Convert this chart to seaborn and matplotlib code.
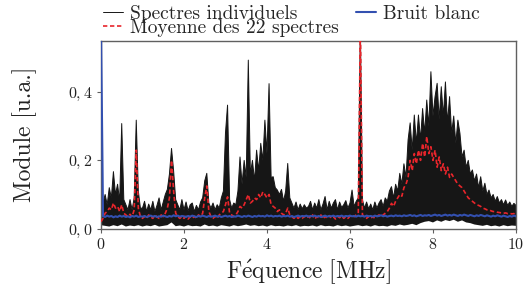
import numpy as np
import matplotlib
matplotlib.use("Agg")
import matplotlib.pyplot as plt
import seaborn as sns

# ---------------- data ----------------
freq = np.linspace(0, 10, 201)          # MHz, 0.05 MHz grid
freq_min = np.linspace(0, 10, 101)      # MHz, 0.1 MHz grid

# upper envelope of the 22 individual spectra
spectres_max = [
    0.040, 0.075, 0.100, 0.070, 0.120, 0.090, 0.167, 0.100, 0.130, 0.080,
    0.308, 0.085, 0.070, 0.055, 0.085, 0.055, 0.090, 0.318, 0.110, 0.060,
    0.060, 0.080, 0.050, 0.072, 0.055, 0.080, 0.050, 0.068, 0.090, 0.055,
    0.078, 0.100, 0.115, 0.160, 0.235, 0.170, 0.085, 0.070, 0.055, 0.085,
    0.055, 0.078, 0.052, 0.070, 0.075, 0.050, 0.068, 0.055, 0.078, 0.090,
    0.140, 0.162, 0.075, 0.060, 0.075, 0.055, 0.070, 0.060, 0.090, 0.110,
    0.280, 0.362, 0.085, 0.060, 0.075, 0.070, 0.110, 0.210, 0.130, 0.200,
    0.150, 0.494, 0.160, 0.200, 0.140, 0.230, 0.170, 0.250, 0.200, 0.318,
    0.220, 0.425, 0.150, 0.152, 0.120, 0.113, 0.100, 0.115, 0.080, 0.110,
    0.191, 0.090, 0.075, 0.060, 0.078, 0.055, 0.072, 0.058, 0.070, 0.060,
    0.065, 0.080, 0.055, 0.075, 0.060, 0.085, 0.055, 0.072, 0.094, 0.055,
    0.080, 0.060, 0.075, 0.085, 0.055, 0.078, 0.062, 0.070, 0.082, 0.060,
    0.075, 0.113, 0.065, 0.080, 0.090, 0.600, 0.085, 0.060, 0.078, 0.058,
    0.072, 0.055, 0.078, 0.060, 0.075, 0.085, 0.065, 0.090, 0.080, 0.110,
    0.123, 0.090, 0.130, 0.110, 0.162, 0.130, 0.190, 0.150, 0.260, 0.310,
    0.230, 0.333, 0.250, 0.333, 0.260, 0.352, 0.280, 0.377, 0.300, 0.460,
    0.330, 0.387, 0.426, 0.320, 0.416, 0.330, 0.430, 0.310, 0.387, 0.280,
    0.330, 0.250, 0.318, 0.279, 0.210, 0.230, 0.180, 0.200, 0.160, 0.172,
    0.140, 0.160, 0.120, 0.152, 0.110, 0.133, 0.100, 0.113, 0.090, 0.100,
    0.080, 0.094, 0.075, 0.085, 0.070, 0.084, 0.068, 0.078, 0.065, 0.074,
    0.068,
]

# lower envelope of the individual spectra
spectres_min = [
    0.010, 0.008, 0.006, 0.010, 0.007, 0.012, 0.006, 0.009, 0.007, 0.010,
    0.006, 0.009, 0.007, 0.011, 0.006, 0.008, 0.010, 0.018, 0.007, 0.009,
    0.006, 0.010, 0.007, 0.008, 0.006, 0.012, 0.007, 0.009, 0.006, 0.010,
    0.008, 0.006, 0.010, 0.007, 0.009, 0.012, 0.008, 0.010, 0.007, 0.009,
    0.006, 0.010, 0.007, 0.008, 0.006, 0.009, 0.007, 0.010, 0.006, 0.008,
    0.007, 0.009, 0.006, 0.010, 0.007, 0.008, 0.006, 0.010, 0.007, 0.009,
    0.006, 0.008, 0.010, 0.007, 0.009, 0.006, 0.010, 0.007, 0.008, 0.006,
    0.010, 0.008, 0.012, 0.009, 0.011, 0.014, 0.010, 0.016, 0.020, 0.022,
    0.018, 0.024, 0.020, 0.025, 0.022, 0.026, 0.020, 0.024, 0.018, 0.016,
    0.012, 0.010, 0.008, 0.011, 0.007, 0.009, 0.006, 0.010, 0.007, 0.009,
    0.008,
]

# mean of the 22 spectra
moyenne = [
    0.020, 0.030, 0.045, 0.050, 0.060, 0.055, 0.075, 0.060, 0.065, 0.050,
    0.070, 0.045, 0.040, 0.035, 0.042, 0.035, 0.055, 0.230, 0.060, 0.035,
    0.030, 0.036, 0.030, 0.040, 0.034, 0.030, 0.040, 0.034, 0.030, 0.040,
    0.035, 0.045, 0.060, 0.090, 0.200, 0.110, 0.045, 0.035, 0.030, 0.036,
    0.030, 0.036, 0.028, 0.035, 0.030, 0.036, 0.030, 0.040, 0.035, 0.045,
    0.090, 0.125, 0.050, 0.035, 0.030, 0.036, 0.030, 0.040, 0.045, 0.050,
    0.070, 0.093, 0.045, 0.040, 0.035, 0.040, 0.050, 0.065, 0.060, 0.070,
    0.085, 0.100, 0.075, 0.080, 0.090, 0.085, 0.100, 0.090, 0.108, 0.100,
    0.090, 0.100, 0.070, 0.065, 0.060, 0.050, 0.055, 0.045, 0.040, 0.045,
    0.060, 0.040, 0.035, 0.030, 0.036, 0.030, 0.035, 0.030, 0.036, 0.030,
    0.036, 0.030, 0.040, 0.028, 0.035, 0.032, 0.040, 0.028, 0.036, 0.030,
    0.038, 0.030, 0.035, 0.028, 0.036, 0.032, 0.038, 0.030, 0.035, 0.030,
    0.036, 0.040, 0.035, 0.040, 0.045, 0.600, 0.040, 0.035, 0.030, 0.036,
    0.030, 0.035, 0.030, 0.036, 0.040, 0.035, 0.040, 0.045, 0.050, 0.060,
    0.074, 0.065, 0.080, 0.090, 0.100, 0.095, 0.120, 0.130, 0.150, 0.200,
    0.170, 0.220, 0.190, 0.230, 0.200, 0.250, 0.210, 0.270, 0.220, 0.240,
    0.200, 0.230, 0.180, 0.210, 0.170, 0.190, 0.160, 0.180, 0.150, 0.160,
    0.150, 0.140, 0.130, 0.125, 0.120, 0.110, 0.100, 0.090, 0.085, 0.080,
    0.075, 0.070, 0.068, 0.065, 0.060, 0.058, 0.055, 0.055, 0.052, 0.050,
    0.050, 0.048, 0.047, 0.046, 0.045, 0.046, 0.044, 0.045, 0.043, 0.044,
    0.042,
]

# white noise spectrum
bruit_blanc = [
    0.600, 0.036, 0.034, 0.038, 0.035, 0.037, 0.033, 0.036, 0.034, 0.038,
    0.035, 0.037, 0.034, 0.036, 0.033, 0.037, 0.035, 0.038, 0.034, 0.036,
    0.035, 0.037, 0.034, 0.036, 0.038, 0.035, 0.037, 0.034, 0.036, 0.035,
    0.038, 0.036, 0.034, 0.037, 0.035, 0.039, 0.036, 0.038, 0.035, 0.037,
    0.036, 0.034, 0.037, 0.035, 0.038, 0.036, 0.034, 0.037, 0.035, 0.038,
    0.036, 0.034, 0.037, 0.035, 0.036, 0.038, 0.035, 0.037, 0.034, 0.036,
    0.038, 0.035, 0.037, 0.034, 0.036, 0.035, 0.038, 0.036, 0.034, 0.037,
    0.035, 0.038, 0.036, 0.034, 0.037, 0.035, 0.038, 0.036, 0.037, 0.035,
    0.039, 0.036, 0.038, 0.035, 0.037, 0.036, 0.038, 0.035, 0.037, 0.036,
    0.038, 0.035, 0.037, 0.034, 0.036, 0.038, 0.035, 0.037, 0.036, 0.038,
    0.035, 0.037, 0.036, 0.038, 0.035, 0.037, 0.034, 0.036, 0.038, 0.035,
    0.037, 0.036, 0.038, 0.035, 0.037, 0.036, 0.038, 0.035, 0.037, 0.036,
    0.038, 0.036, 0.037, 0.035, 0.038, 0.036, 0.037, 0.035, 0.038, 0.036,
    0.037, 0.035, 0.038, 0.036, 0.037, 0.039, 0.036, 0.038, 0.035, 0.037,
    0.038, 0.036, 0.039, 0.037, 0.038, 0.036, 0.039, 0.037, 0.038, 0.040,
    0.037, 0.039, 0.036, 0.038, 0.040, 0.037, 0.039, 0.038, 0.040, 0.037,
    0.039, 0.041, 0.038, 0.040, 0.037, 0.039, 0.041, 0.038, 0.040, 0.038,
    0.041, 0.039, 0.037, 0.040, 0.038, 0.041, 0.039, 0.037, 0.040, 0.038,
    0.036, 0.039, 0.037, 0.040, 0.038, 0.036, 0.039, 0.037, 0.035, 0.038,
    0.036, 0.039, 0.037, 0.035, 0.038, 0.036, 0.034, 0.037, 0.035, 0.038,
    0.036,
]

x_ticks = [0, 2, 4, 6, 8, 10]
x_tick_labels = ["$0$", "$2$", "$4$", "$6$", "$8$", "$10$"]
y_ticks = [0.0, 0.2, 0.4]
y_tick_labels = ["$0,0$", "$0,2$", "$0,4$"]

# ---------------- style ----------------
sns.set_theme(style="white")
plt.rcParams["font.family"] = ["cmr10", "DejaVu Serif"]
plt.rcParams["mathtext.fontset"] = "cm"
plt.rcParams["axes.unicode_minus"] = False

BLACK = "#161616"
RED = "#e8252b"
BLUE = "#3350b0"
GRAY = "#606060"
TEXT = "#222222"

fig = plt.figure(figsize=(5.24, 2.88), dpi=100)
ax = fig.add_axes([0.1927, 0.2063, 0.7920, 0.6513])

# individual spectra: dense band between lower and upper envelopes
ax.fill(np.concatenate([freq, np.asarray(freq_min)[::-1]]),
        np.concatenate([spectres_max, np.asarray(spectres_min)[::-1]]),
        color=BLACK, lw=0, zorder=1)
sns.lineplot(x=freq, y=spectres_max, color=BLACK, lw=0.7, ax=ax,
             label="Spectres individuels", zorder=2)
sns.lineplot(x=freq, y=moyenne, color=RED, lw=1.2, linestyle=(0, (2.6, 1.6)),
             ax=ax, label="Moyenne des 22 spectres", zorder=3)
sns.lineplot(x=freq, y=bruit_blanc, color=BLUE, lw=1.5, ax=ax,
             label="Bruit blanc", zorder=4)

handles, labels = ax.get_legend_handles_labels()
ax.get_legend().remove()

ax.set_xlim(0, 10)
ax.set_ylim(0, 0.55)
ax.set_xticks(x_ticks)
ax.set_xticklabels(x_tick_labels)
ax.set_yticks(y_ticks)
ax.set_yticklabels(y_tick_labels)
ax.tick_params(axis="both", which="major", direction="out", length=3,
               width=0.8, color=GRAY, labelsize=11.5, pad=3, labelcolor=TEXT,
               bottom=True, left=True)
for s in ax.spines.values():
    s.set_color(GRAY)
    s.set_linewidth(1.0)

ax.set_xlabel(r"$\mathrm{F\acute{e}quence\ [MHz]}$", fontsize=17, color=TEXT,
              labelpad=4)
ax.set_ylabel("Module [u.a.]", fontsize=17, color=TEXT, labelpad=22)

fig.legend(handles, labels, ncol=2, frameon=False, loc="upper left",
           bbox_to_anchor=(0.192, 0.99), fontsize=14, handlelength=1.05,
           handletextpad=0.35, columnspacing=0.9, labelspacing=-0.2,
           borderaxespad=0.0, borderpad=0.1)

fig.savefig("out.png", dpi=100)
